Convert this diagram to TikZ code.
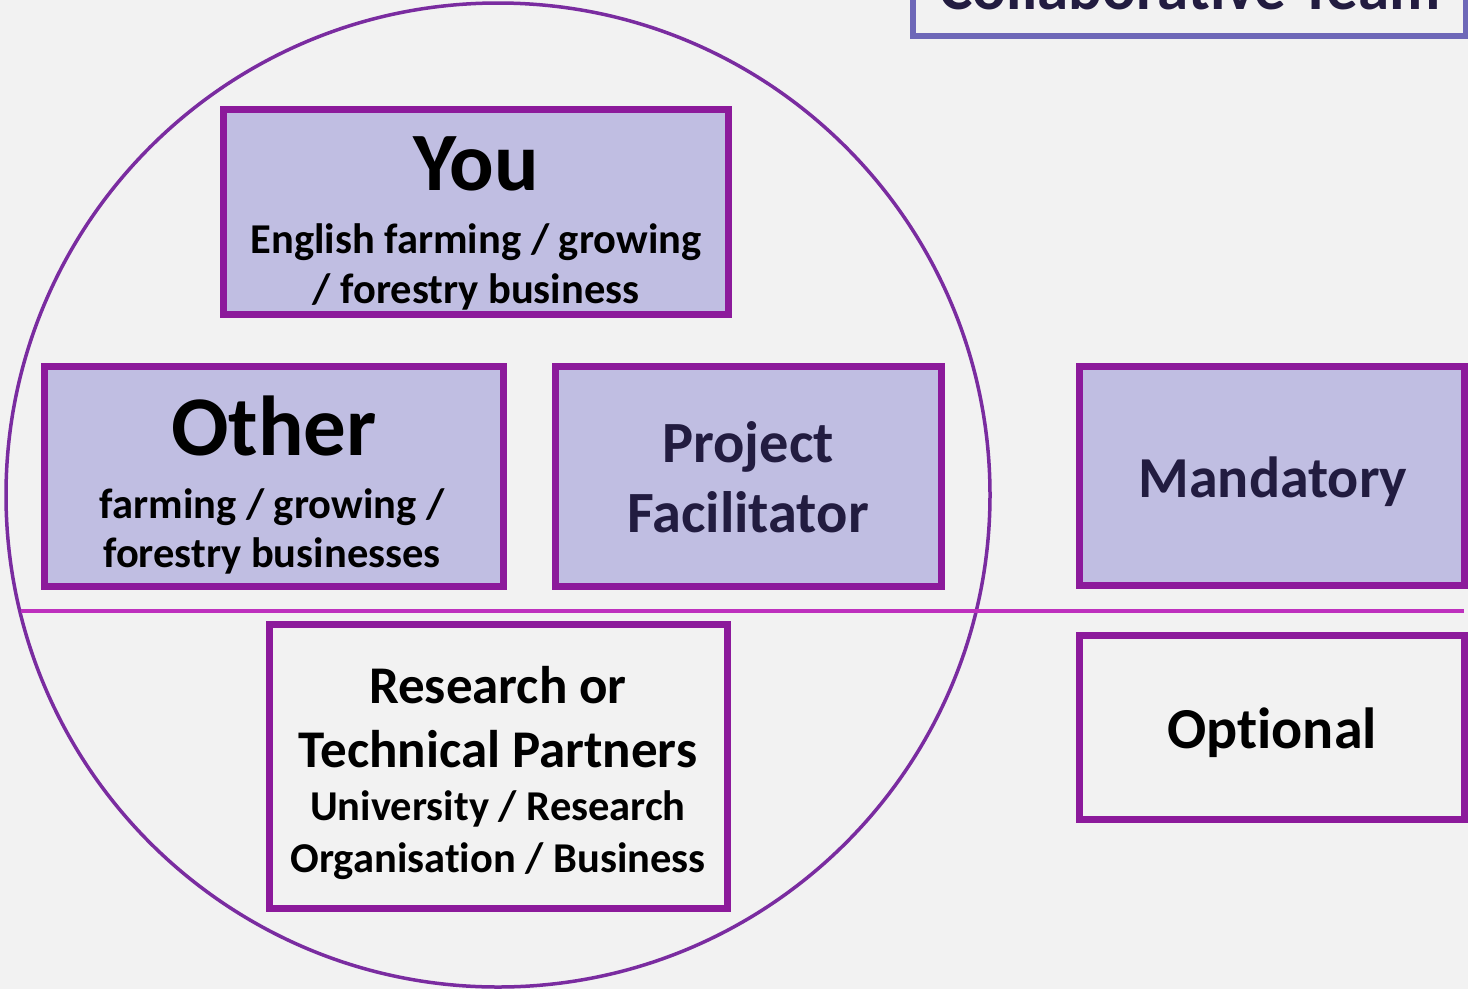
\documentclass[tikz,border=0pt]{standalone}
\usepackage{fontspec}
\setmainfont{Carlito}[Ligatures=NoCommon]
\definecolor{bgc}{HTML}{F2F2F2}
\definecolor{fillc}{HTML}{C0BEE2}
\definecolor{boxc}{HTML}{8C1A9B}
\definecolor{circc}{HTML}{7A2CA0}
\definecolor{divc}{HTML}{BE30BE}
\definecolor{navy}{HTML}{221C40}
\definecolor{teamc}{HTML}{6E68B8}
\newcommand{\fsz}[2]{\fontsize{#1}{#2}\selectfont}
\begin{document}
\begin{tikzpicture}[x=1pt,y=-1pt,
  box/.style={draw=boxc, line width=7pt, inner sep=0pt},
  mand/.style={box, fill=fillc},
  opt/.style={box, fill=bgc},
  txt/.style={anchor=base, inner sep=0pt, align=center},
]
\fill[bgc] (0,0) rectangle (1468,989);
\useasboundingbox (0,0) rectangle (1468,989);
% team box (cut off at top)
\node[draw=teamc, line width=6pt, inner sep=0pt, minimum width=553pt, minimum height=95.5pt] (team) at (1189.5,-12.25) {};
\node[txt, text=navy, font=\bfseries\fsz{63}{63}] (teamT) at (1190,9) {Collaborative Team};
% circle
\node[draw=circc, line width=3.5pt, circle, minimum size=984pt, inner sep=0pt] (circ) at (498,495) {};
% divider
\coordinate (dl) at (21,611);
\coordinate (dr) at (1464,611);
\draw[divc, line width=3.5pt] (dl) -- (dr);
% boxes
\node[mand, minimum width=505pt, minimum height=205pt] (you) at (476,212) {};
\node[mand, minimum width=459pt, minimum height=220pt] (other) at (274,476.5) {};
\node[mand, minimum width=386pt, minimum height=220pt] (pf) at (748.5,476.5) {};
\node[mand, minimum width=385pt, minimum height=219pt] (mandb) at (1272,476) {};
\node[opt, minimum width=458pt, minimum height=284pt] (res) at (498.5,766.5) {};
\node[opt, minimum width=385pt, minimum height=184pt] (optb) at (1272,727.5) {};
% texts
\node[txt, font=\bfseries\fsz{83}{83}] (youT) at (476,190) {You};
\node[txt, font=\bfseries\fsz{42.5}{50}] (youS) at (476,303) {English farming / growing\\/ forestry business};
\node[txt, font=\bfseries\fsz{85}{85}] (otherT) at (274,455) {Other};
\node[txt, font=\bfseries\fsz{42.5}{49}] (otherS) at (272,567) {farming / growing /\\forestry businesses};
\node[txt, text=navy, font=\bfseries\fsz{58.4}{70}] (pfT) at (748,532) {Project\\Facilitator};
\node[txt, text=navy, font=\bfseries\fsz{58}{58}] (mandT) at (1273,497) {Mandatory};
\node[txt, font=\bfseries\fsz{58}{58}] (optT) at (1272,748) {Optional};
\node[txt, font=\bfseries\fsz{53}{64}] (resT) at (498,767) {Research or\\Technical Partners};
\node[txt, font=\bfseries\fsz{42.5}{52}] (resS) at (498,872) {University / Research\\Organisation / Business};
\end{tikzpicture}
\end{document}
